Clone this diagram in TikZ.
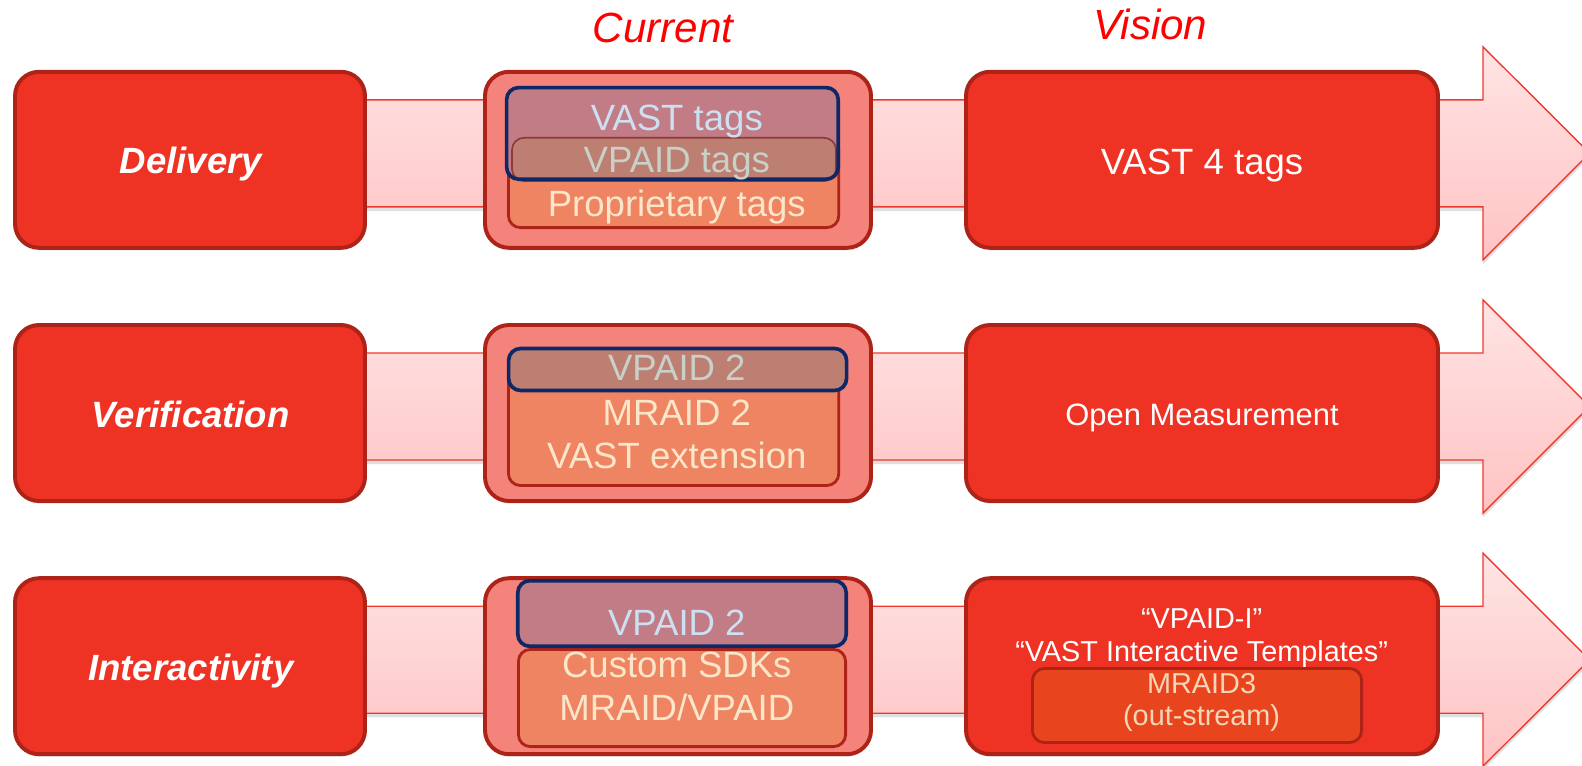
\documentclass[tikz,border=0pt]{standalone}
\usepackage{fontspec}
\setmainfont{Liberation Sans}
\usepackage{tikz}
\usetikzlibrary{shadows}

\definecolor{boxred}{HTML}{EE3224}
\definecolor{edgered}{HTML}{AE2318}
\definecolor{salmon}{HTML}{F4837B}
\definecolor{tagorange}{HTML}{EE8462}
\definecolor{mauve}{HTML}{C27C86}
\definecolor{brownish}{HTML}{BE7F73}
\definecolor{darkbrown}{HTML}{8E3A36}
\definecolor{navy}{HTML}{0E2766}
\definecolor{ltblue}{HTML}{CCE0F2}
\definecolor{greytxt}{HTML}{C8D0C8}
\definecolor{cream}{HTML}{FCE6C9}
\definecolor{mraidfill}{HTML}{E8441E}
\definecolor{mraidtxt}{HTML}{F5D6B5}
\definecolor{arrowtop}{HTML}{FFE4E4}
\definecolor{arrowbot}{HTML}{FFC3C3}
\definecolor{arrowedge}{HTML}{F0392E}

\tikzstyle{mainbox}  = [rectangle, rounded corners=0.6cm, draw=edgered, line width=2.8pt, fill=boxred, minimum height=4.4cm, inner sep=0, outer sep=0, drop shadow={shadow xshift=0pt, shadow yshift=-2pt, opacity=0.15}]
\tikzstyle{curbox}   = [mainbox, fill=salmon, minimum width=9.65cm]
\tikzstyle{tagbox}   = [rectangle, rounded corners=0.3cm, draw=edgered, line width=2pt, fill=tagorange, inner sep=0, outer sep=0]
\tikzstyle{vastbox}  = [tagbox, draw=navy, line width=2.6pt, fill=mauve]
\tikzstyle{vpaidbox} = [tagbox, draw=darkbrown, line width=1.2pt, fill=brownish]
\tikzstyle{bigarrow} = [draw=arrowedge, line width=1pt, top color=arrowtop, bottom color=arrowbot, drop shadow={shadow xshift=0pt, shadow yshift=-3pt, opacity=0.25}]
\tikzstyle{rowlbl}   = [text=white, font=\fontsize{26}{31}\selectfont\bfseries\itshape, anchor=base, inner sep=0]
\tikzstyle{tagtxt}   = [font=\fontsize{26}{31}\selectfont, anchor=base, inner sep=0]
\tikzstyle{vistxt}   = [text=white, font=\fontsize{26}{31}\selectfont, anchor=base, inner sep=0]
\tikzstyle{smalltxt} = [text=white, font=\fontsize{20.5}{24}\selectfont, anchor=base, inner sep=0]
\tikzstyle{headtxt}  = [text=red, font=\fontsize{30}{36}\selectfont\itshape, anchor=base, inner sep=0]

\begin{document}
\begin{tikzpicture}
      \useasboundingbox (0,0) rectangle (39.55,19.125);

      % big arrows behind each row
      \draw [bigarrow, shift={(0,15.13)}] (2,1.5) -- (37.075,1.5) -- (37.075,2.825) -- (39.74,0.1625) -- (37.075,-2.5) -- (37.075,-1.175) -- (2,-1.175) -- cycle;
      \draw [bigarrow, shift={(0,8.80)}]  (2,1.5) -- (37.075,1.5) -- (37.075,2.825) -- (39.74,0.1625) -- (37.075,-2.5) -- (37.075,-1.175) -- (2,-1.175) -- cycle;
      \draw [bigarrow, shift={(0,2.47)}]  (2,1.5) -- (37.075,1.5) -- (37.075,2.825) -- (39.74,0.1625) -- (37.075,-2.5) -- (37.075,-1.175) -- (2,-1.175) -- cycle;

      \node (cur)  [headtxt] at (16.575,18.05)  {Current};
      \node (vis)  [headtxt] at (28.76,18.125)  {Vision};

      % left column
      \node (del)  [mainbox, minimum width=8.75cm] at (4.75,15.13) {};
      \node (ver)  [mainbox, minimum width=8.75cm] at (4.75,8.80)  {};
      \node (inter) [mainbox, minimum width=8.75cm] at (4.75,2.47) {};
      \node (delT) [rowlbl] at (4.77,14.78) {Delivery};
      \node (verT) [rowlbl] at (4.77,8.45)  {Verification};
      \node (intT) [rowlbl] at (4.77,2.12)  {Interactivity};

      % current column
      \node (delCur) [curbox] at (16.95,15.13) {};
      \node (verCur) [curbox] at (16.95,8.80)  {};
      \node (intCur) [curbox] at (16.95,2.47)  {};

      \node (propBox)  [tagbox, minimum width=8.26cm, minimum height=2.23cm] at (16.84,14.55) {};
      \node (vastBox)  [vastbox, draw=none, minimum width=8.29cm, minimum height=2.29cm] at (16.81,15.79) {};
      \node (vpaidBox) [vpaidbox, minimum width=8.1cm, minimum height=1.08cm] at (16.85,15.14) {};
      \draw [navy, line width=2.6pt, rounded corners=0.3cm] (vastBox.south west) rectangle (vastBox.north east);
      \node (vastT)  [tagtxt, text=ltblue]  at (16.92,15.85) {VAST tags};
      \node (vpaidT) [tagtxt, text=greytxt] at (16.92,14.80) {VPAID tags};
      \node (propT)  [tagtxt, text=cream]   at (16.92,13.70) {Proprietary tags};

      \node (mraidBox)  [tagbox, minimum width=8.26cm, minimum height=3.4cm] at (16.84,8.6875) {};
      \node (vpaid2Box) [vastbox, fill=brownish, minimum width=8.45cm, minimum height=1.05cm] at (16.94,9.8875) {};
      \node (vpaid2T) [tagtxt, text=greytxt] at (16.92,9.625) {VPAID 2};
      \node (mraid2T) [tagtxt, text=cream]   at (16.92,8.50)  {MRAID 2};
      \node (extT)    [tagtxt, text=cream]   at (16.92,7.425) {VAST extension};

      \node (sdkBox)    [tagbox, minimum width=8.18cm, minimum height=2.43cm] at (17.05,1.675) {};
      \node (vpaid3Box) [vastbox, minimum width=8.21cm, minimum height=1.64cm] at (17.05,3.7875) {};
      \node (vpaid3T) [tagtxt, text=ltblue] at (16.92,3.25)  {VPAID 2};
      \node (sdkT)    [tagtxt, text=cream]  at (16.92,2.20)  {Custom SDKs};
      \node (mvT)     [tagtxt, text=cream]  at (16.92,1.125) {MRAID/VPAID};

      % vision column
      \node (delVis) [mainbox, minimum width=11.8cm] at (30.05,15.13) {};
      \node (verVis) [mainbox, minimum width=11.8cm] at (30.05,8.80)  {};
      \node (intVis) [mainbox, minimum width=11.8cm] at (30.05,2.47)  {};
      \node (vast4T) [vistxt] at (30.05,14.76) {VAST 4 tags};
      \node (omT)    [vistxt, font=\fontsize{22}{26}\selectfont] at (30.05,8.50) {Open Measurement};

      \node (mraid3Box) [tagbox, fill=mraidfill, minimum width=8.23cm, minimum height=1.85cm] at (29.925,1.4875) {};
      \node (vpaidiT) [smalltxt] at (30.04,3.425) {“VPAID-I”};
      \node (templT)  [smalltxt] at (30.04,2.60)  {“VAST Interactive Templates”};
      \node (mraid3T) [smalltxt, text=mraidtxt] at (30.04,1.80) {MRAID3};
      \node (outT)    [smalltxt, text=mraidtxt] at (30.04,1.00) {(out-stream)};

\end{tikzpicture}
\end{document}
